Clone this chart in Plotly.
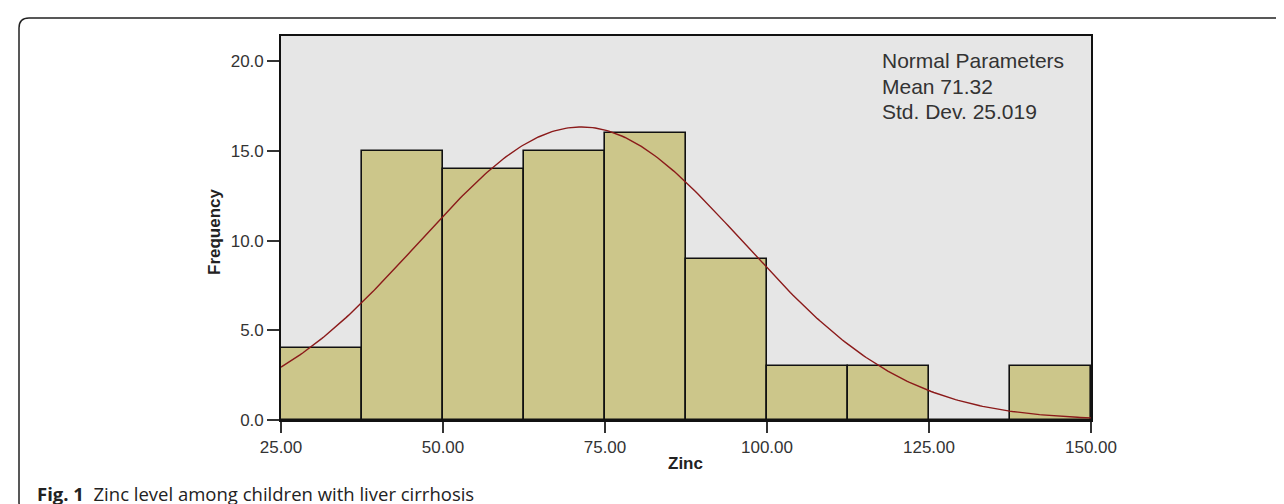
import numpy as np
import plotly.graph_objects as go

# ---- data ----
bin_starts = [25.0, 37.5, 50.0, 62.5, 75.0, 87.5, 100.0, 112.5, 125.0, 137.5]
counts = [4, 15, 14, 15, 16, 9, 3, 3, 0, 3]
bin_width = 12.5
mean_val = 71.32
std_val = 25.019
x_ticks = [25, 50, 75, 100, 125, 150]
y_ticks = [0, 5, 10, 15, 20]
legend_lines = ["Normal Parameters", "Mean 71.32", "Std. Dev. 25.019"]

# fitted normal curve (scaled to histogram counts)
n_total = sum(counts)
xs = np.linspace(25, 150, 300)
ys = n_total * bin_width * np.exp(-0.5 * ((xs - mean_val) / std_val) ** 2) / (std_val * np.sqrt(2 * np.pi))

W, H = 1284, 504
L, R, T, B = 273, 1284 - 1083, 28, 504 - 412
PW, PH = W - L - R, H - T - B


def px(x):
    return (x - L) / PW


def py(y):
    return (H - B - y) / PH


fig = go.Figure()
fig.add_trace(go.Bar(
    x=bin_starts, y=counts, width=bin_width, offset=0,
    marker=dict(color="#CCC68A", line=dict(color="#111111", width=1.6)),
    hoverinfo="x+y", showlegend=False,
))
fig.add_trace(go.Scatter(
    x=xs, y=ys, mode="lines", line=dict(color="#8B1A1A", width=1.4),
    showlegend=False, hoverinfo="skip",
))

axis_font = dict(family="Liberation Sans, Arial, sans-serif", size=17, color="#333333")

fig.update_layout(
    width=W, height=H,
    margin=dict(l=L, r=R, t=T, b=B, pad=0),
    paper_bgcolor="white",
    plot_bgcolor="#E6E6E6",
    bargap=0,
    xaxis=dict(
        range=[25, 150], tickvals=x_ticks, ticktext=[f"{v:.2f}" for v in x_ticks],
        ticks="outside", ticklen=11, tickwidth=2, tickcolor="#333333",
        showline=True, linecolor="#111111", linewidth=1.6, mirror=True,
        showgrid=False, zeroline=False, tickfont=axis_font, fixedrange=True,
    ),
    yaxis=dict(
        range=[0, PH / 17.93], tickvals=y_ticks, ticktext=[f"{v:.1f}" for v in y_ticks],
        ticks="outside", ticklen=12, tickwidth=2, tickcolor="#333333",
        showline=True, linecolor="#111111", linewidth=1.6, mirror=True,
        showgrid=False, zeroline=False, tickfont=axis_font, fixedrange=True,
    ),
    font=dict(family="Liberation Sans, Arial, sans-serif"),
)

for i, line in enumerate(legend_lines):
    fig.add_annotation(
        x=px(872), y=py(53 + 25.5 * i), xref="paper", yref="paper",
        xanchor="left", yanchor="middle", text=line, align="left",
        showarrow=False, font=dict(family="Liberation Sans, Arial, sans-serif", size=21, color="#333333"),
    )
fig.add_annotation(
    x=px(206), y=py(224), xref="paper", yref="paper", xanchor="center", yanchor="middle",
    text="<b>Frequency</b>", textangle=-90, showarrow=False,
    font=dict(family="Liberation Sans, Arial, sans-serif", size=17, color="#222222"),
)
fig.add_annotation(
    x=px(677), y=py(455), xref="paper", yref="paper", xanchor="center", yanchor="middle",
    text="<b>Zinc</b>", showarrow=False,
    font=dict(family="Liberation Sans, Arial, sans-serif", size=17, color="#222222"),
)
fig.add_annotation(
    x=px(27), y=py(485), xref="paper", yref="paper", xanchor="left", yanchor="middle",
    text="<b>Fig. 1</b>  Zinc level among children with liver cirrhosis", showarrow=False,
    font=dict(family="Open Sans, Noto Sans, sans-serif", size=18.5, color="#222222"),
)

# outer figure frame with rounded left corners
path = (
    f"M {px(1300)},{py(505)} L {px(21)},{py(505)} "
    f"Q {px(11)},{py(505)} {px(11)},{py(495)} "
    f"L {px(11)},{py(20)} Q {px(11)},{py(10)} {px(21)},{py(10)} "
    f"L {px(1300)},{py(10)}"
)
fig.add_shape(type="path", path=path, xref="paper", yref="paper",
              line=dict(color="#222222", width=1.5), layer="above")

fig.write_html("out.html")
